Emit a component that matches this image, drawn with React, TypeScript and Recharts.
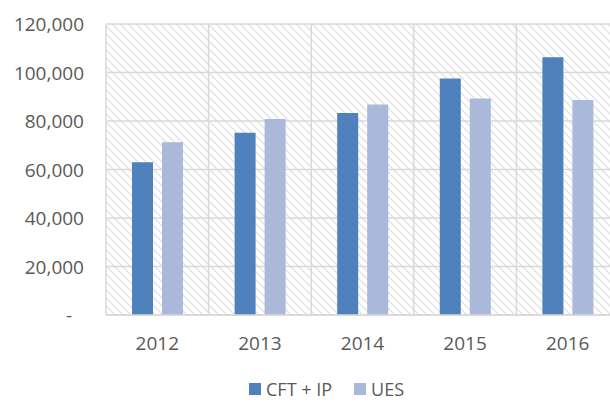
import React from 'react';
import { BarChart, Bar, XAxis, YAxis, CartesianGrid } from 'recharts';

const years = ['2012', '2013', '2014', '2015', '2016'];
const cftIp = [63000, 75200, 83300, 97500, 106300];
const ues = [71200, 80800, 86800, 89300, 88700];
const yTicks = [0, 20000, 40000, 60000, 80000, 100000, 120000];

const seriesNames = ['CFT + IP', 'UES'];
const seriesColors = ['#4f81bd', '#aab9da'];

const data = years.map((year, i) => ({ year, cftIp: cftIp[i], ues: ues[i] }));

const FONT = '"Open Sans", sans-serif';
const TEXT = '#595959';
const GRID = '#d9d9d9';

const YTick = (props: any) => {
  const { x, y, payload } = props;
  const v = payload.value as number;
  const label = v === 0 ? '-' : v.toLocaleString('en-US');
  return (
    <text x={v === 0 ? x - 26 : x - 14} y={y} dy={7} textAnchor="end" fill={TEXT} fontSize={19} fontFamily={FONT}>
      {label}
    </text>
  );
};

const XTick = (props: any) => {
  const { x, y, payload } = props;
  return (
    <text x={x} y={y} dy={27} textAnchor="middle" fill={TEXT} fontSize={19} fontFamily={FONT}>
      {payload.value}
    </text>
  );
};

const App: React.FC = () => {
  return (
    <div style={{ position: 'absolute', left: 0, top: 0, width: 610, height: 402, overflow: 'hidden', background: '#fff' }}>
      <svg width={0} height={0} style={{ position: 'absolute' }}>
        <defs>
          <pattern id="hatch" width={8} height={8} patternUnits="userSpaceOnUse">
            <path d="M-2,6 L2,10 M0,0 L8,8 M6,-2 L10,2" stroke="#e3e3e3" strokeWidth={1.5} />
          </pattern>
        </defs>
      </svg>
      <BarChart
        width={640}
        height={402}
        data={data}
        barSize={21}
        barGap={9}
        margin={{ top: 24, right: 21, left: 0, bottom: 47 }}
      >
        <CartesianGrid
          fill="url(#hatch)"
          fillOpacity={1}
          stroke={GRID}
          strokeWidth={1.5}
          verticalCoordinatesGenerator={({ offset }: any) =>
            years.map((_, i) => offset.left + (i * offset.width) / years.length).concat(offset.left + offset.width)
          }
        />
        <XAxis
          dataKey="year"
          height={40}
          axisLine={{ stroke: GRID, strokeWidth: 1.5 }}
          tickLine={false}
          tick={<XTick />}
          interval={0}
        />
        <YAxis
          width={106}
          domain={[0, 120000]}
          ticks={yTicks}
          axisLine={false}
          tickLine={false}
          tick={<YTick />}
          interval={0}
        />
        <Bar dataKey="cftIp" name={seriesNames[0]} fill={seriesColors[0]} isAnimationActive={false} />
        <Bar dataKey="ues" name={seriesNames[1]} fill={seriesColors[1]} isAnimationActive={false} />
      </BarChart>
      <div
        style={{
          position: 'absolute',
          top: 380,
          left: 249,
          display: 'flex',
          alignItems: 'center',
          fontFamily: FONT,
          fontSize: 18,
          color: TEXT,
          lineHeight: '18px',
          whiteSpace: 'nowrap',
        }}
      >
        {seriesNames.map((name, i) => (
          <span key={name} style={{ display: 'flex', alignItems: 'center', marginRight: 22 }}>
            <span style={{ width: 12, height: 12, background: seriesColors[i], marginRight: 5, display: 'inline-block' }} />
            {name}
          </span>
        ))}
      </div>
    </div>
  );
};

export default App;
